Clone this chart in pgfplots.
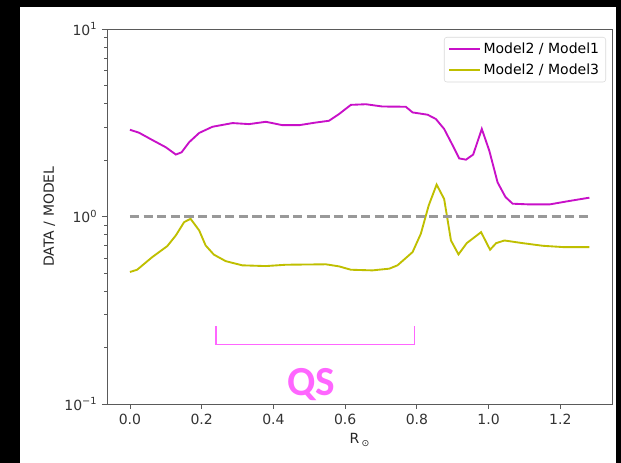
\documentclass[border=0pt]{standalone}
\usepackage{pgfplots}
\pgfplotsset{compat=1.18}
\usepackage{fontspec}
\setmainfont{DejaVu Sans}
\newfontfamily\qsfont{Carlito}
\definecolor{ratioA}{RGB}{200,16,200}
\definecolor{ratioB}{RGB}{191,191,0}
\definecolor{qspink}{RGB}{255,102,255}
\definecolor{refgray}{RGB}{153,153,153}
\definecolor{spine}{RGB}{90,90,90}

\pgfplotstableread{
x     y
0.000 2.90
0.025 2.80
0.062 2.56
0.100 2.34
0.128 2.14
0.144 2.20
0.165 2.49
0.193 2.79
0.230 3.01
0.286 3.15
0.332 3.11
0.379 3.20
0.425 3.07
0.472 3.07
0.518 3.17
0.555 3.24
0.583 3.52
0.616 3.94
0.658 3.97
0.704 3.86
0.769 3.85
0.788 3.59
0.830 3.49
0.853 3.31
0.876 2.93
0.900 2.39
0.918 2.04
0.937 2.01
0.957 2.14
0.981 2.93
1.002 2.24
1.025 1.52
1.047 1.27
1.067 1.17
1.114 1.16
1.170 1.16
1.225 1.21
1.281 1.26
}\ratioone

\pgfplotstableread{
x     y
0.000 0.506
0.020 0.520
0.062 0.607
0.104 0.695
0.128 0.793
0.151 0.933
0.169 0.972
0.193 0.843
0.211 0.701
0.234 0.626
0.267 0.578
0.313 0.549
0.379 0.544
0.435 0.553
0.546 0.556
0.583 0.542
0.616 0.520
0.676 0.516
0.723 0.527
0.746 0.549
0.788 0.646
0.811 0.809
0.833 1.146
0.855 1.48
0.876 1.24
0.895 0.745
0.916 0.628
0.939 0.721
0.979 0.825
1.004 0.665
1.021 0.721
1.044 0.745
1.095 0.721
1.151 0.698
1.207 0.687
1.281 0.687
}\ratiothree

\begin{document}
\begin{tikzpicture}
% dark frame around the page
\fill[black] (-80.25pt,-44.25pt) rectangle (385.5pt,303pt);
\fill[white] (-65.25pt,-44.25pt) rectangle (381.75pt,297.75pt);
\useasboundingbox (-80.25pt,-44.25pt) rectangle (385.5pt,303pt);
\begin{axis}[
  at={(0pt,0pt)}, anchor=south west,
  scale only axis, width=378.75pt, height=281.25pt,
  ymode=log,
  xmin=-0.064, xmax=1.344, ymin=0.1, ymax=10,
  xtick={0,0.2,0.4,0.6,0.8,1.0,1.2},
  xticklabels={0.0,0.2,0.4,0.6,0.8,1.0,1.2},
  ytick={0.1,1,10},
  yticklabels={10\textsuperscript{−1},10\textsuperscript{0},10\textsuperscript{1}},
  tick align=outside, tick pos=left,
  major tick length=3.75pt, minor tick length=2.2pt,
  axis line style={spine, line width=0.6pt},
  every tick/.style={spine, line width=0.6pt},
  tick label style={font=\fontsize{10.5}{12}\selectfont, text=black!80},
  label style={font=\fontsize{10.5}{12}\selectfont, text=black!85},
  xlabel={R\,{\fontsize{7}{8}\selectfont\raisebox{-2pt}{⊙}}},
  ylabel={DATA / MODEL},
  legend style={at={(1,1)}, xshift=-4.5pt, yshift=-6pt, anchor=north east,
    draw=black!15, rounded corners=2pt, fill=white,
    font=\fontsize{10.5}{12}\selectfont, row sep=2.6pt,
    inner xsep=3pt, inner ysep=2pt},
  legend cell align=left,
  legend image code/.code={\draw[line width=1.5pt,#1] (0pt,0pt) -- (23pt,0pt);},
]
\addplot[color=ratioA, line width=1.4pt] table[x=x,y=y] {\ratioone};
\addlegendentry{Model2 / Model1}
\addplot[color=ratioB, line width=1.4pt] table[x=x,y=y] {\ratiothree};
\addlegendentry{Model2 / Model3}
\addplot[refgray, line width=1.9pt, dash pattern=on 7pt off 3.2pt, forget plot]
  coordinates {(0,1) (1.28,1)};
% quiet-sun bracket
\draw[qspink, line width=1.1pt]
  (axis cs:0.24,0.26) -- (axis cs:0.24,0.208) -- (axis cs:0.793,0.208) -- (axis cs:0.793,0.26);
\node[qspink, anchor=base, inner sep=0pt, font=\qsfont\bfseries\fontsize{31}{31}\selectfont]
  at (axis cs:0.505,0.1116) {QS};
\end{axis}
\end{tikzpicture}
\end{document}
